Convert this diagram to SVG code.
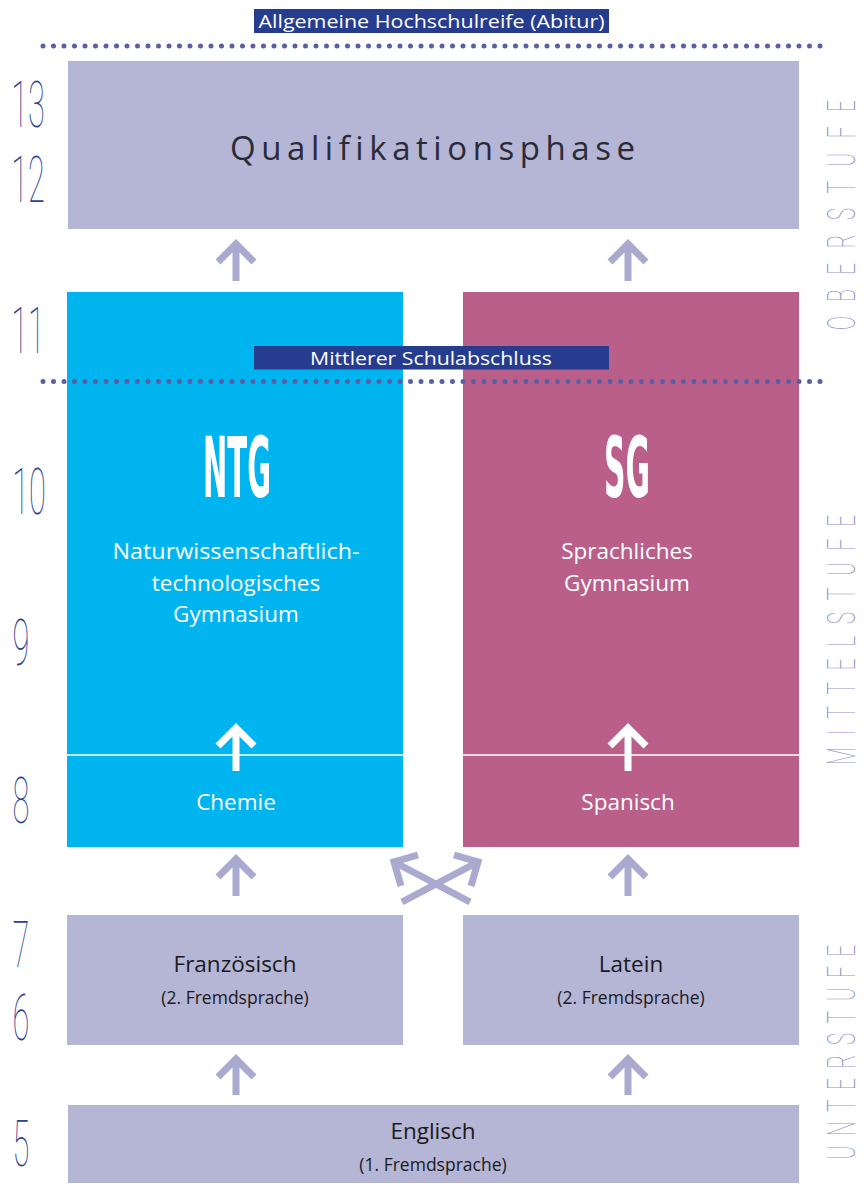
<svg xmlns="http://www.w3.org/2000/svg" width="864" height="1187" viewBox="0 0 864 1187">
<style>
.box{fill:#b5b5d6}
.dots{stroke:#5b5ea6;stroke-width:5;stroke-linecap:round;stroke-dasharray:0 10.5;fill:none}
.arr{stroke:#aaa9cf;stroke-width:7;fill:none;stroke-linejoin:miter;stroke-linecap:butt}
.warr{stroke:#ffffff;stroke-width:7;fill:none;stroke-linejoin:miter}
.num{font-family:Roboto,"DejaVu Sans",sans-serif;font-weight:100;font-size:64px;fill:#2c4394;text-anchor:middle}
.side{font-family:Roboto,"DejaVu Sans",sans-serif;font-weight:100;font-size:38px;fill:#8f92cc;text-anchor:middle}
.t{font-family:"Open Sans","Noto Sans",sans-serif;text-anchor:middle}
.w{fill:#ffffff}
.k{fill:#1a1a1a}
.big{font-family:"DejaVu Sans Condensed","DejaVu Sans",sans-serif;font-weight:bold;font-size:84px;fill:#ffffff;text-anchor:middle}
</style>

<g id="abitur">
<rect x="254" y="9" width="355" height="24" fill="#263c8e"/>
<text class="t w" x="431.5" y="28" font-size="18" textLength="346" lengthAdjust="spacingAndGlyphs">Allgemeine Hochschulreife (Abitur)</text>
</g>
<line class="dots" x1="43" y1="46" x2="830" y2="46"/>

<g id="qualifikationsphase">
<rect class="box" x="68" y="61" width="731" height="168"/>
<text class="t" x="435" y="160" font-size="33" fill="#2b2b38" letter-spacing="5" textLength="410" lengthAdjust="spacing">Qualifikationsphase</text>
</g>

<g id="ntg">
<rect x="67" y="292" width="336" height="555" fill="#00b5ef"/>
<line x1="67" y1="755" x2="403" y2="755" stroke="#ffffff" stroke-width="1.5"/>
<text class="big" x="237" y="497" textLength="68" lengthAdjust="spacingAndGlyphs">NTG</text>
<text class="t w" font-size="22.5"><tspan x="236" y="559" textLength="247" lengthAdjust="spacingAndGlyphs">Naturwissenschaftlich-</tspan><tspan x="236" y="591">technologisches</tspan><tspan x="236" y="622">Gymnasium</tspan></text>
<text class="t w" x="236" y="810" font-size="22.5">Chemie</text>
</g>

<g id="sg">
<rect x="463" y="292" width="336" height="555" fill="#b95f89"/>
<line x1="463" y1="755" x2="799" y2="755" stroke="#ffffff" stroke-width="1.5"/>
<text class="big" x="627" y="497" textLength="46" lengthAdjust="spacingAndGlyphs">SG</text>
<text class="t w" font-size="22.5"><tspan x="627" y="559">Sprachliches</tspan><tspan x="627" y="591">Gymnasium</tspan></text>
<text class="t w" x="628" y="810" font-size="22.5">Spanisch</text>
</g>

<g id="mittlerer">
<rect x="254" y="346" width="355" height="23.5" fill="#263c8e"/>
<text class="t w" x="431" y="365" font-size="19" textLength="242" lengthAdjust="spacingAndGlyphs">Mittlerer Schulabschluss</text>
</g>
<line class="dots" x1="43" y1="381.5" x2="830" y2="381.5"/>

<g id="franzoesisch">
<rect class="box" x="67" y="915" width="336" height="130"/>
<text class="t k" x="235" y="972" font-size="22.5">Französisch</text>
<text class="t k" x="235" y="1004" font-size="17.5">(2. Fremdsprache)</text>
</g>

<g id="latein">
<rect class="box" x="463" y="915" width="336" height="130"/>
<text class="t k" x="631" y="972" font-size="22.5">Latein</text>
<text class="t k" x="631" y="1004" font-size="17.5">(2. Fremdsprache)</text>
</g>

<g id="englisch">
<rect class="box" x="68" y="1105" width="731" height="78"/>
<text class="t k" x="433" y="1139" font-size="22.5">Englisch</text>
<text class="t k" x="433" y="1171" font-size="17.5">(1. Fremdsprache)</text>
</g>

<g id="connectors">
<path class="arr" d="M218,262 L236,244 L254,262 M236,248 V281"/>
<path class="arr" d="M610,262 L628,244 L646,262 M628,248 V281"/>
<path class="warr" d="M218,746 L236,728 L254,746 M236,732 V771"/>
<path class="warr" d="M610,746 L628,728 L646,746 M628,732 V771"/>
<path class="arr" d="M218,877 L236,859 L254,877 M236,863 V896"/>
<path class="arr" d="M610,877 L628,859 L646,877 M628,863 V896"/>
<path class="arr" d="M218,1077 L236,1059 L254,1077 M236,1063 V1095"/>
<path class="arr" d="M610,1077 L628,1059 L646,1077 M628,1063 V1095"/>
<path class="arr" d="M470,902 L397,863.5 M401,886 L394,862 L418,855"/>
<path class="arr" d="M402,902 L475,863.5 M471,886 L478,862 L454,855"/>
</g>

<g id="grades">
<text class="num" transform="translate(28,127) scale(0.48,1)">13</text>
<text class="num" transform="translate(28,202) scale(0.48,1)">12</text>
<text class="num" transform="translate(28,353) scale(0.48,1)">11</text>
<text class="num" transform="translate(29,514) scale(0.48,1)">10</text>
<text class="num" transform="translate(21,665) scale(0.48,1)">9</text>
<text class="num" transform="translate(21,823) scale(0.48,1)">8</text>
<text class="num" transform="translate(21,967) scale(0.48,1)">7</text>
<text class="num" transform="translate(21,1040) scale(0.48,1)">6</text>
<text class="num" transform="translate(21,1166) scale(0.48,1)">5</text>
</g>

<g id="stufen">
<text class="side" transform="translate(855,215) rotate(-90) scale(0.55,1)" textLength="418" lengthAdjust="spacing">OBERSTUFE</text>
<text class="side" transform="translate(855,640) rotate(-90) scale(0.55,1)" textLength="455" lengthAdjust="spacing">MITTELSTUFE</text>
<text class="side" transform="translate(855,1052) rotate(-90) scale(0.55,1)" textLength="391" lengthAdjust="spacing">UNTERSTUFE</text>
</g>
</svg>
